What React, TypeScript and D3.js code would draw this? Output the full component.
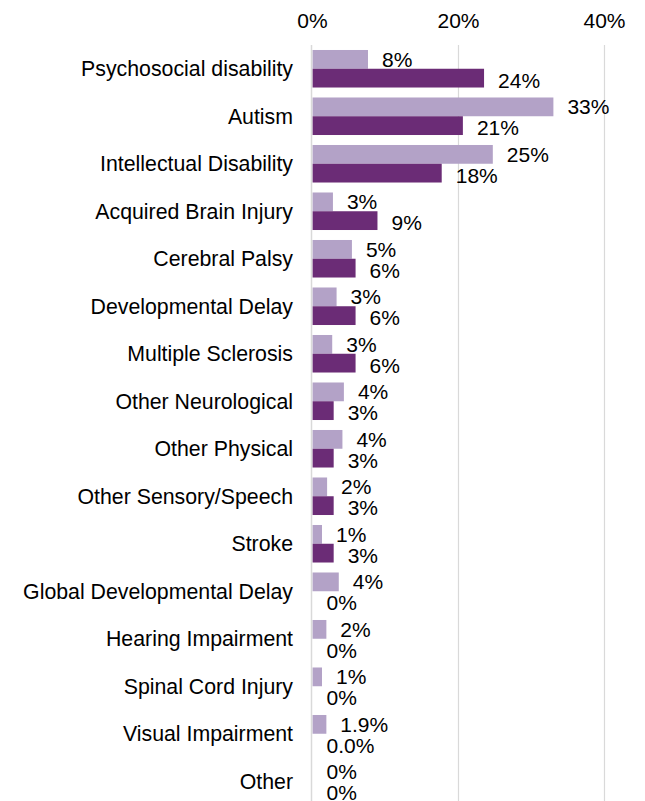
import { useEffect, useRef } from "react";
import * as d3 from "d3";

const categories = [
  "Psychosocial disability",
  "Autism",
  "Intellectual Disability",
  "Acquired Brain Injury",
  "Cerebral Palsy",
  "Developmental Delay",
  "Multiple Sclerosis",
  "Other Neurological",
  "Other Physical",
  "Other Sensory/Speech",
  "Stroke",
  "Global Developmental Delay",
  "Hearing Impairment",
  "Spinal Cord Injury",
  "Visual Impairment",
  "Other",
];

// light series (top bar of each pair)
const lightValues = [7.6, 33.0, 24.7, 2.8, 5.4, 3.3, 2.7, 4.3, 4.1, 2.0, 1.3, 3.6, 1.9, 1.3, 1.9, 0];
const lightLabels = ["8%", "33%", "25%", "3%", "5%", "3%", "3%", "4%", "4%", "2%", "1%", "4%", "2%", "1%", "1.9%", "0%"];

// dark series (bottom bar of each pair)
const darkValues = [23.5, 20.6, 17.7, 8.9, 5.9, 5.9, 5.9, 2.9, 2.9, 2.9, 2.9, 0, 0, 0, 0, 0];
const darkLabels = ["24%", "21%", "18%", "9%", "6%", "6%", "6%", "3%", "3%", "3%", "3%", "0%", "0%", "0%", "0.0%", "0%"];

const seriesKeys = ["light", "dark"];
const tickValues = [0, 20, 40];

const WIDTH = 645;
const HEIGHT = 801;
const FONT = "'Liberation Sans', Arial, sans-serif";
const colors: Record<string, string> = { light: "#b3a2c7", dark: "#6b2c76" };

export default function App() {
  const svgRef = useRef<SVGSVGElement | null>(null);

  useEffect(() => {
    if (!svgRef.current) return;
    const svg = d3.select(svgRef.current);
    svg.selectAll("*").remove();

    const x = d3.scaleLinear().domain([0, 40]).range([312.5, 604.5]);
    const y = d3
      .scaleBand<string>()
      .domain(categories)
      .range([45, 805])
      .paddingInner(0.21)
      .paddingOuter(0.105);
    const ySub = d3
      .scaleBand<string>()
      .domain(seriesKeys)
      .range([0, y.bandwidth()]);

    const rows = categories.map((name, i) => ({
      name,
      light: lightValues[i],
      dark: darkValues[i],
      lightLabel: lightLabels[i],
      darkLabel: darkLabels[i],
    }));

    // gridlines
    svg
      .append("g")
      .selectAll("line")
      .data(tickValues.filter((t) => t > 0))
      .join("line")
      .attr("x1", (d) => x(d))
      .attr("x2", (d) => x(d))
      .attr("y1", 45)
      .attr("y2", HEIGHT)
      .attr("stroke", "#d9d9d9")
      .attr("stroke-width", 1.2);

    // top tick labels
    svg
      .append("g")
      .selectAll("text")
      .data(tickValues)
      .join("text")
      .attr("x", (d) => x(d))
      .attr("y", 27.5)
      .attr("text-anchor", "middle")
      .attr("font-family", FONT)
      .attr("font-size", 21)
      .attr("fill", "#000")
      .text((d) => `${d}%`);

    const groups = svg
      .append("g")
      .selectAll("g")
      .data(rows)
      .join("g")
      .attr("transform", (d) => `translate(0,${y(d.name)})`);

    seriesKeys.forEach((key) => {
      groups
        .append("rect")
        .attr("x", x(0))
        .attr("y", ySub(key)!)
        .attr("width", (d: any) => x(d[key]) - x(0))
        .attr("height", ySub.bandwidth())
        .attr("fill", colors[key]);

      groups
        .append("text")
        .attr("x", (d: any) => x(d[key]) + 14)
        .attr("y", ySub(key)! + ySub.bandwidth() / 2 + (key === "dark" ? 2 : 0))
        .attr("dy", "0.36em")
        .attr("font-family", FONT)
        .attr("font-size", 21)
        .attr("fill", "#000")
        .text((d: any) => d[`${key}Label`]);
    });

    // vertical axis line at 0
    svg
      .append("line")
      .attr("x1", x(0) - 1)
      .attr("x2", x(0) - 1)
      .attr("y1", 45)
      .attr("y2", HEIGHT)
      .attr("stroke", "#d9d9d9")
      .attr("stroke-width", 1.5);

    // category labels
    svg
      .append("g")
      .selectAll("text")
      .data(categories)
      .join("text")
      .attr("x", 293)
      .attr("y", (d) => y(d)! + y.bandwidth() / 2)
      .attr("dy", "0.36em")
      .attr("text-anchor", "end")
      .attr("font-family", FONT)
      .attr("font-size", 21.3)
      .attr("fill", "#000")
      .text((d) => d);
  }, []);

  return (
    <svg
      ref={svgRef}
      width={WIDTH}
      height={HEIGHT}
      style={{ position: "absolute", left: 0, top: 0, background: "#fff" }}
    />
  );
}
